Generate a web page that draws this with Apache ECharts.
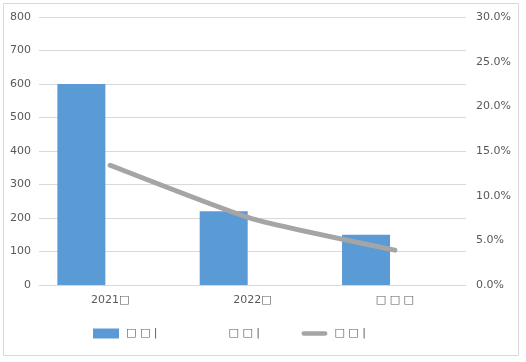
<!DOCTYPE html>
<html>
<head>
<meta charset="utf-8">
<script src="https://cdn.jsdelivr.net/npm/echarts@6/dist/echarts.min.js"></script>
<style>html,body{margin:0;padding:0;background:#fff}#c{width:526px;height:362px}</style>
</head>
<body>
<div id="c"></div>
<script>
var categories = ['2021\u25A1', '2022\u25A1', '\u25A1 \u25A1 \u25A1'];
var seriesNames = ['\u25A1 \u25A1 |', '\u25A1 \u25A1 | ', '\u25A1 \u25A1 |  '];
var barValues = [600, 220, 150];
var bar2Values = [null, null, null];
var lineValues = [13.4, 7.4, 3.9];
var leftTicks = [0, 800, 100];
var rightTicks = [0, 30, 5];

var chart = echarts.init(document.getElementById('c'));
var txt = {color: '#595959', fontFamily: 'DejaVu Sans', fontSize: 11};
chart.setOption({
  animation: false,
  graphic: [{type: 'rect', shape: {x: 3.5, y: 3.5, width: 515, height: 352}, style: {fill: 'none', stroke: '#D9D9D9', lineWidth: 1}, silent: true}],
  grid: {left: 39, right: 60, top: 17, bottom: 77},
  legend: {
    bottom: 18, left: 88, itemWidth: 26, itemHeight: 10, itemGap: 38,
    textStyle: {color: '#595959', fontFamily: 'DejaVu Sans', fontSize: 11, padding: [0, 0, 0, 2]},
    data: [
      {name: seriesNames[0], icon: 'rect'},
      {name: seriesNames[1], icon: 'rect'},
      {name: seriesNames[2], icon: 'path://M2.5,0 L27.5,0 A2.5,2.5 0 0 1 27.5,5 L2.5,5 A2.5,2.5 0 0 1 2.5,0 Z', itemStyle: {color: '#A5A5A5'}}
    ]
  },
  xAxis: {
    type: 'category', data: categories,
    axisLine: {lineStyle: {color: '#D9D9D9'}}, axisTick: {show: false},
    axisLabel: Object.assign({margin: 10}, txt)
  },
  yAxis: [{
    type: 'value', min: leftTicks[0], max: leftTicks[1], interval: leftTicks[2],
    axisLine: {show: false}, axisTick: {show: false},
    splitLine: {lineStyle: {color: '#D9D9D9'}},
    axisLabel: Object.assign({margin: 8}, txt)
  }, {
    type: 'value', min: rightTicks[0], max: rightTicks[1], interval: rightTicks[2],
    axisLine: {show: false}, axisTick: {show: false}, splitLine: {show: false},
    axisLabel: Object.assign({margin: 10, formatter: function (v) { return v.toFixed(1) + '%'; }}, txt)
  }],
  series: [{
    name: seriesNames[0], type: 'bar', data: barValues, barWidth: 48, barGap: '20%',
    itemStyle: {color: '#5B9BD5'}
  }, {
    name: seriesNames[1], type: 'bar', data: bar2Values, barWidth: 48,
    itemStyle: {color: 'rgba(0,0,0,0)'}
  }, {
    name: seriesNames[2], type: 'line', yAxisIndex: 1, data: lineValues, smooth: 0.15,
    symbol: 'none', lineStyle: {color: '#A5A5A5', width: 5, cap: 'round'}, itemStyle: {color: '#A5A5A5'}
  }]
});
</script>
</body>
</html>
